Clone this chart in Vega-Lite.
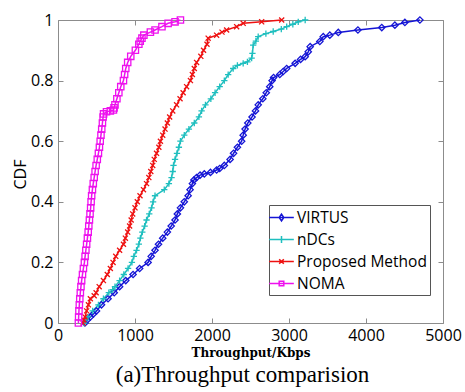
{
 "$schema": "https://vega.github.io/schema/vega-lite/v6.json",
 "width": 385, "height": 303,
 "autosize": {"type": "none"},
 "padding": {"left": 58, "top": 20, "right": 22, "bottom": 69},
 "background": "white",
 "view": {"stroke": "#8c8c8c", "strokeWidth": 1},
 "config": {
  "view": {"stroke": "#8c8c8c", "strokeWidth": 1},
  "axis": {"domain": false, "grid": false, "tickColor": "#8c8c8c", "tickWidth": 1, "labelFont": "Open Sans", "labelFontSize": 16, "labelColor": "black", "titleColor": "black", "labelFlush": false}
 },
 "title": {"text": "(a)Throughput comparision", "orient": "bottom", "font": "Liberation Serif", "fontSize": 23, "fontWeight": "normal", "anchor": "middle", "frame": "group", "offset": 6, "dx": -8, "color": "black"},
 "data": {"values": [
  {"s":"VIRTUS","x":350,"y":0},{"s":"VIRTUS","x":380,"y":0.01},{"s":"VIRTUS","x":420,"y":0.02},{"s":"VIRTUS","x":460,"y":0.03},{"s":"VIRTUS","x":500,"y":0.04},{"s":"VIRTUS","x":565,"y":0.06},{"s":"VIRTUS","x":650,"y":0.08},{"s":"VIRTUS","x":730,"y":0.10},{"s":"VIRTUS","x":800,"y":0.12},{"s":"VIRTUS","x":880,"y":0.14},{"s":"VIRTUS","x":975,"y":0.16},{"s":"VIRTUS","x":1060,"y":0.18},{"s":"VIRTUS","x":1170,"y":0.20},{"s":"VIRTUS","x":1210,"y":0.22},{"s":"VIRTUS","x":1260,"y":0.24},{"s":"VIRTUS","x":1305,"y":0.26},{"s":"VIRTUS","x":1360,"y":0.28},{"s":"VIRTUS","x":1420,"y":0.30},{"s":"VIRTUS","x":1470,"y":0.32},{"s":"VIRTUS","x":1520,"y":0.34},{"s":"VIRTUS","x":1550,"y":0.36},{"s":"VIRTUS","x":1590,"y":0.38},{"s":"VIRTUS","x":1640,"y":0.40},{"s":"VIRTUS","x":1690,"y":0.42},{"s":"VIRTUS","x":1715,"y":0.44},{"s":"VIRTUS","x":1745,"y":0.46},{"s":"VIRTUS","x":1765,"y":0.472},{"s":"VIRTUS","x":1800,"y":0.48},{"s":"VIRTUS","x":1845,"y":0.488},{"s":"VIRTUS","x":1900,"y":0.492},{"s":"VIRTUS","x":1980,"y":0.497},{"s":"VIRTUS","x":2060,"y":0.505},{"s":"VIRTUS","x":2100,"y":0.51},{"s":"VIRTUS","x":2160,"y":0.52},{"s":"VIRTUS","x":2235,"y":0.54},{"s":"VIRTUS","x":2280,"y":0.56},{"s":"VIRTUS","x":2330,"y":0.58},{"s":"VIRTUS","x":2385,"y":0.60},{"s":"VIRTUS","x":2405,"y":0.62},{"s":"VIRTUS","x":2430,"y":0.64},{"s":"VIRTUS","x":2465,"y":0.66},{"s":"VIRTUS","x":2520,"y":0.68},{"s":"VIRTUS","x":2565,"y":0.70},{"s":"VIRTUS","x":2600,"y":0.72},{"s":"VIRTUS","x":2660,"y":0.74},{"s":"VIRTUS","x":2705,"y":0.76},{"s":"VIRTUS","x":2750,"y":0.78},{"s":"VIRTUS","x":2780,"y":0.80},{"s":"VIRTUS","x":2800,"y":0.81},{"s":"VIRTUS","x":2880,"y":0.82},{"s":"VIRTUS","x":2925,"y":0.83},{"s":"VIRTUS","x":2970,"y":0.84},{"s":"VIRTUS","x":3080,"y":0.857},{"s":"VIRTUS","x":3150,"y":0.87},{"s":"VIRTUS","x":3210,"y":0.879},{"s":"VIRTUS","x":3250,"y":0.895},{"s":"VIRTUS","x":3275,"y":0.912},{"s":"VIRTUS","x":3400,"y":0.929},{"s":"VIRTUS","x":3445,"y":0.945},{"s":"VIRTUS","x":3530,"y":0.95},{"s":"VIRTUS","x":3640,"y":0.959},{"s":"VIRTUS","x":3895,"y":0.967},{"s":"VIRTUS","x":4205,"y":0.975},{"s":"VIRTUS","x":4375,"y":0.983},{"s":"VIRTUS","x":4505,"y":0.992},{"s":"VIRTUS","x":4700,"y":1.0},
  {"s":"nDCs","x":340,"y":0},{"s":"nDCs","x":360,"y":0.01},{"s":"nDCs","x":390,"y":0.02},{"s":"nDCs","x":450,"y":0.04},{"s":"nDCs","x":525,"y":0.06},{"s":"nDCs","x":590,"y":0.08},{"s":"nDCs","x":660,"y":0.10},{"s":"nDCs","x":710,"y":0.11},{"s":"nDCs","x":740,"y":0.12},{"s":"nDCs","x":800,"y":0.14},{"s":"nDCs","x":855,"y":0.16},{"s":"nDCs","x":910,"y":0.18},{"s":"nDCs","x":960,"y":0.20},{"s":"nDCs","x":985,"y":0.22},{"s":"nDCs","x":1020,"y":0.24},{"s":"nDCs","x":1050,"y":0.26},{"s":"nDCs","x":1070,"y":0.28},{"s":"nDCs","x":1095,"y":0.30},{"s":"nDCs","x":1125,"y":0.32},{"s":"nDCs","x":1150,"y":0.34},{"s":"nDCs","x":1185,"y":0.36},{"s":"nDCs","x":1215,"y":0.38},{"s":"nDCs","x":1235,"y":0.40},{"s":"nDCs","x":1260,"y":0.42},{"s":"nDCs","x":1380,"y":0.44},{"s":"nDCs","x":1440,"y":0.46},{"s":"nDCs","x":1475,"y":0.48},{"s":"nDCs","x":1490,"y":0.50},{"s":"nDCs","x":1500,"y":0.52},{"s":"nDCs","x":1520,"y":0.54},{"s":"nDCs","x":1545,"y":0.56},{"s":"nDCs","x":1570,"y":0.58},{"s":"nDCs","x":1590,"y":0.60},{"s":"nDCs","x":1640,"y":0.62},{"s":"nDCs","x":1700,"y":0.64},{"s":"nDCs","x":1770,"y":0.66},{"s":"nDCs","x":1830,"y":0.68},{"s":"nDCs","x":1865,"y":0.70},{"s":"nDCs","x":1915,"y":0.72},{"s":"nDCs","x":1985,"y":0.74},{"s":"nDCs","x":2040,"y":0.76},{"s":"nDCs","x":2100,"y":0.78},{"s":"nDCs","x":2160,"y":0.80},{"s":"nDCs","x":2210,"y":0.82},{"s":"nDCs","x":2275,"y":0.84},{"s":"nDCs","x":2330,"y":0.85},{"s":"nDCs","x":2405,"y":0.857},{"s":"nDCs","x":2460,"y":0.862},{"s":"nDCs","x":2515,"y":0.874},{"s":"nDCs","x":2525,"y":0.89},{"s":"nDCs","x":2535,"y":0.917},{"s":"nDCs","x":2570,"y":0.93},{"s":"nDCs","x":2600,"y":0.945},{"s":"nDCs","x":2700,"y":0.955},{"s":"nDCs","x":2795,"y":0.962},{"s":"nDCs","x":2900,"y":0.97},{"s":"nDCs","x":2970,"y":0.978},{"s":"nDCs","x":3050,"y":0.986},{"s":"nDCs","x":3120,"y":0.994},{"s":"nDCs","x":3210,"y":1.0},
  {"s":"Proposed Method","x":325,"y":0},{"s":"Proposed Method","x":335,"y":0.01},{"s":"Proposed Method","x":350,"y":0.02},{"s":"Proposed Method","x":372,"y":0.04},{"s":"Proposed Method","x":395,"y":0.06},{"s":"Proposed Method","x":420,"y":0.08},{"s":"Proposed Method","x":470,"y":0.09},{"s":"Proposed Method","x":495,"y":0.10},{"s":"Proposed Method","x":535,"y":0.12},{"s":"Proposed Method","x":590,"y":0.14},{"s":"Proposed Method","x":640,"y":0.16},{"s":"Proposed Method","x":680,"y":0.18},{"s":"Proposed Method","x":715,"y":0.20},{"s":"Proposed Method","x":750,"y":0.22},{"s":"Proposed Method","x":800,"y":0.24},{"s":"Proposed Method","x":850,"y":0.26},{"s":"Proposed Method","x":875,"y":0.28},{"s":"Proposed Method","x":905,"y":0.30},{"s":"Proposed Method","x":930,"y":0.32},{"s":"Proposed Method","x":950,"y":0.34},{"s":"Proposed Method","x":970,"y":0.36},{"s":"Proposed Method","x":1000,"y":0.38},{"s":"Proposed Method","x":1030,"y":0.40},{"s":"Proposed Method","x":1065,"y":0.42},{"s":"Proposed Method","x":1110,"y":0.44},{"s":"Proposed Method","x":1150,"y":0.46},{"s":"Proposed Method","x":1180,"y":0.48},{"s":"Proposed Method","x":1205,"y":0.50},{"s":"Proposed Method","x":1230,"y":0.52},{"s":"Proposed Method","x":1250,"y":0.54},{"s":"Proposed Method","x":1280,"y":0.56},{"s":"Proposed Method","x":1310,"y":0.58},{"s":"Proposed Method","x":1330,"y":0.60},{"s":"Proposed Method","x":1360,"y":0.62},{"s":"Proposed Method","x":1390,"y":0.64},{"s":"Proposed Method","x":1420,"y":0.66},{"s":"Proposed Method","x":1450,"y":0.68},{"s":"Proposed Method","x":1490,"y":0.70},{"s":"Proposed Method","x":1540,"y":0.72},{"s":"Proposed Method","x":1585,"y":0.74},{"s":"Proposed Method","x":1625,"y":0.76},{"s":"Proposed Method","x":1670,"y":0.78},{"s":"Proposed Method","x":1720,"y":0.80},{"s":"Proposed Method","x":1745,"y":0.82},{"s":"Proposed Method","x":1770,"y":0.84},{"s":"Proposed Method","x":1800,"y":0.86},{"s":"Proposed Method","x":1855,"y":0.88},{"s":"Proposed Method","x":1890,"y":0.90},{"s":"Proposed Method","x":1935,"y":0.92},{"s":"Proposed Method","x":1950,"y":0.94},{"s":"Proposed Method","x":2060,"y":0.95},{"s":"Proposed Method","x":2130,"y":0.96},{"s":"Proposed Method","x":2190,"y":0.967},{"s":"Proposed Method","x":2320,"y":0.978},{"s":"Proposed Method","x":2405,"y":0.989},{"s":"Proposed Method","x":2645,"y":0.994},{"s":"Proposed Method","x":2905,"y":1.0},
  {"s":"NOMA","x":265,"y":0},{"s":"NOMA","x":268,"y":0.02},{"s":"NOMA","x":272,"y":0.04},{"s":"NOMA","x":277,"y":0.06},{"s":"NOMA","x":283,"y":0.08},{"s":"NOMA","x":290,"y":0.10},{"s":"NOMA","x":298,"y":0.12},{"s":"NOMA","x":307,"y":0.14},{"s":"NOMA","x":318,"y":0.16},{"s":"NOMA","x":330,"y":0.18},{"s":"NOMA","x":343,"y":0.20},{"s":"NOMA","x":352,"y":0.22},{"s":"NOMA","x":362,"y":0.24},{"s":"NOMA","x":372,"y":0.26},{"s":"NOMA","x":382,"y":0.28},{"s":"NOMA","x":392,"y":0.30},{"s":"NOMA","x":400,"y":0.32},{"s":"NOMA","x":408,"y":0.34},{"s":"NOMA","x":416,"y":0.36},{"s":"NOMA","x":424,"y":0.38},{"s":"NOMA","x":430,"y":0.40},{"s":"NOMA","x":437,"y":0.42},{"s":"NOMA","x":447,"y":0.44},{"s":"NOMA","x":458,"y":0.46},{"s":"NOMA","x":470,"y":0.48},{"s":"NOMA","x":482,"y":0.50},{"s":"NOMA","x":495,"y":0.52},{"s":"NOMA","x":510,"y":0.54},{"s":"NOMA","x":525,"y":0.56},{"s":"NOMA","x":538,"y":0.58},{"s":"NOMA","x":548,"y":0.60},{"s":"NOMA","x":558,"y":0.62},{"s":"NOMA","x":568,"y":0.64},{"s":"NOMA","x":577,"y":0.66},{"s":"NOMA","x":586,"y":0.68},{"s":"NOMA","x":592,"y":0.69},{"s":"NOMA","x":630,"y":0.697},{"s":"NOMA","x":680,"y":0.70},{"s":"NOMA","x":720,"y":0.703},{"s":"NOMA","x":728,"y":0.71},{"s":"NOMA","x":740,"y":0.72},{"s":"NOMA","x":765,"y":0.74},{"s":"NOMA","x":790,"y":0.76},{"s":"NOMA","x":815,"y":0.78},{"s":"NOMA","x":850,"y":0.80},{"s":"NOMA","x":865,"y":0.82},{"s":"NOMA","x":880,"y":0.84},{"s":"NOMA","x":905,"y":0.86},{"s":"NOMA","x":945,"y":0.88},{"s":"NOMA","x":1005,"y":0.90},{"s":"NOMA","x":1050,"y":0.92},{"s":"NOMA","x":1068,"y":0.93},{"s":"NOMA","x":1090,"y":0.94},{"s":"NOMA","x":1115,"y":0.95},{"s":"NOMA","x":1200,"y":0.96},{"s":"NOMA","x":1260,"y":0.967},{"s":"NOMA","x":1350,"y":0.978},{"s":"NOMA","x":1430,"y":0.989},{"s":"NOMA","x":1520,"y":0.994},{"s":"NOMA","x":1590,"y":1.0}
 ]},
 "layer": [
  {
   "mark": {"type": "line", "strokeWidth": 1.5},
   "encoding": {
    "x": {"field": "x", "type": "quantitative", "scale": {"domain": [0, 5000], "nice": false},
          "axis": {"orient": "bottom", "values": [0,1000,2000,3000,4000,5000], "format": "d", "tickSize": -5, "labelPadding": 9,
                   "title": "Throughput/Kbps", "titleFont": "DejaVu Serif", "titleFontSize": 12, "titleFontWeight": "bold", "titleBaseline": "alphabetic", "titleY": 33}},
    "y": {"field": "y", "type": "quantitative", "scale": {"domain": [0, 1], "nice": false},
          "axis": {"orient": "left", "values": [0,0.2,0.4,0.6,0.8,1], "format": "~g", "tickSize": -5, "labelPadding": 10,
                   "title": "CDF", "titleFont": "Open Sans", "titleFontSize": 16, "titleFontWeight": "normal", "titleBaseline": "alphabetic", "titleAngle": -90, "titleX": -33, "titleY": 154, "titleAlign": "center"}},
    "color": {"field": "s", "type": "nominal", "scale": {"domain": ["VIRTUS","nDCs","Proposed Method","NOMA"], "range": ["#1515d5","#1fbfbf","#ee1111","#ee11ee"]}}
   }
  },
  {
   "mark": {"type": "point", "filled": false, "strokeWidth": 1.3, "size": 40, "opacity": 1},
   "encoding": {
    "x": {"field": "x", "type": "quantitative", "scale": {"domain": [0, 5000], "nice": false},
          "axis": {"orient": "top", "values": [0,1000,2000,3000,4000,5000], "labels": false, "tickSize": -5, "title": null}},
    "y": {"field": "y", "type": "quantitative", "scale": {"domain": [0, 1], "nice": false},
          "axis": {"orient": "right", "values": [0,0.2,0.4,0.6,0.8,1], "labels": false, "tickSize": -5, "title": null}},
    "color": {"field": "s", "type": "nominal", "scale": {"domain": ["VIRTUS","nDCs","Proposed Method","NOMA"], "range": ["#1515d5","#1fbfbf","#ee1111","#ee11ee"]},
              "legend": {"orient": "none", "legendX": 211, "legendY": 185, "title": null, "strokeColor": "#555555", "fillColor": "white", "padding": 3,
                         "labelFont": "Open Sans", "labelFontSize": 15.5, "labelColor": "black", "labelOffset": 6, "symbolSize": 289, "symbolStrokeWidth": 1.5, "rowPadding": 4,
                         "symbolType": {"expr": "datum.value === 'VIRTUS' ? 'M-1.45,0L1.45,0M0,-0.4L0.27,0L0,0.4L-0.27,0Z' : datum.value === 'nDCs' ? 'M-1.45,0L1.45,0M0,-0.4L0,0.4' : datum.value === 'NOMA' ? 'M-1.45,0L1.45,0M-0.27,-0.27L0.27,-0.27L0.27,0.27L-0.27,0.27Z' : 'M-1.45,0L1.45,0M-0.27,-0.27L0.27,0.27M-0.27,0.27L0.27,-0.27'"}}},
    "shape": {"field": "s", "type": "nominal", "scale": {"domain": ["NOMA","Proposed Method","nDCs","VIRTUS"], "range": ["square","M-0.8,-0.8L0.8,0.8M-0.8,0.8L0.8,-0.8","M0,-1L0,1M-1,0L1,0","diamond"]}, "legend": null}
   }
  }
 ],
 "resolve": {"axis": {"x": "independent", "y": "independent"}}
}
